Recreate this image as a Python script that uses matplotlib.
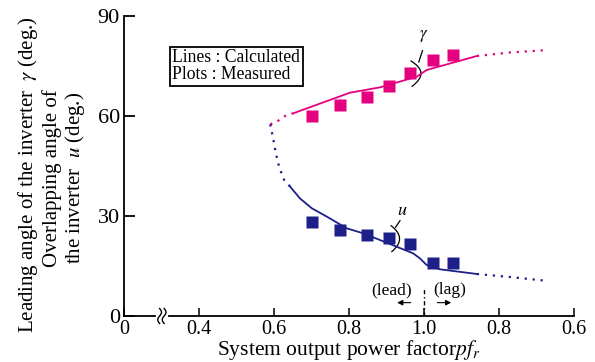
import numpy as np
import matplotlib
matplotlib.use("Agg")
import matplotlib.pyplot as plt
from matplotlib.path import Path
from matplotlib.patches import PathPatch
import matplotlib.transforms as mtransforms

plt.rcParams['font.family'] = ['Liberation Serif', 'DejaVu Serif']
plt.rcParams['mathtext.fontset'] = 'stix'

# x axis is unfolded: lead side 0.4..1.0, then lag side back down (1.2 -> 0.8, 1.4 -> 0.6)
tick_pos = [0.2, 0.4, 0.6, 0.8, 1.0, 1.2, 1.4]
tick_labels = ['0', '0.4', '0.6', '0.8', '1.0', '0.8', '0.6']

# measured
x_meas = [0.702, 0.777, 0.849, 0.906, 0.963, 1.025, 1.078]
gamma_meas = [59.9, 63.2, 65.6, 68.9, 72.8, 76.7, 78.3]
u_meas = [28.1, 25.8, 24.3, 23.3, 21.6, 15.9, 15.9]

# calculated gamma
g_dot_l_x = [0.590, 0.607, 0.625, 0.643, 0.651]
g_dot_l_y = [57.5, 58.2, 59.8, 60.5, 60.8]
g_x = [0.651, 0.803, 0.883, 0.981, 1.007, 1.141]
g_y = [60.8, 67.0, 68.6, 71.8, 73.8, 78.0]
g_dot_r_x = [1.141, 1.229, 1.331]
g_dot_r_y = [78.0, 79.05, 79.8]

# calculated u
u_dot_l_x = [0.590, 0.598, 0.605, 0.614, 0.627, 0.643]
u_dot_l_y = [57.5, 53.1, 48.8, 44.6, 40.8, 38.8]
u_x = [0.643, 0.669, 0.701, 0.741, 0.794, 0.838, 0.971, 0.989, 1.007, 1.043, 1.141]
u_y = [38.8, 35.3, 32.3, 29.8, 26.3, 24.8, 18.8, 17.3, 15.3, 14.0, 12.6]
u_dot_r_x = [1.141, 1.229, 1.331]
u_dot_r_y = [12.6, 11.7, 10.5]

pink = '#E4007F'
navy = '#1D2088'
dots = (0, (1, 2.6))

fig = plt.figure(figsize=(5.95, 3.62), dpi=100)
ax = fig.add_axes([0.2084, 0.1271, 0.7563, 0.8287])

ax.plot(g_x, g_y, color=pink, lw=1.3)
ax.plot(g_dot_l_x, g_dot_l_y, color=pink, lw=1.6, ls=dots)
ax.plot(g_dot_r_x, g_dot_r_y, color=pink, lw=1.6, ls=dots)
ax.plot(u_x, u_y, color=navy, lw=1.3)
ax.plot(u_dot_l_x, u_dot_l_y, color=navy, lw=1.6, ls=dots)
ax.plot(u_dot_r_x, u_dot_r_y, color=navy, lw=1.6, ls=dots)

ax.plot(x_meas, gamma_meas, 's', color=pink, ms=8, mec='none')
ax.plot(x_meas, u_meas, 's', color=navy, ms=8, mec='none')

ax.set_xlim(0.2, 1.4)
ax.set_ylim(0, 90)
ax.set_xticks(tick_pos)
ax.set_xticklabels(tick_labels)
ax.set_yticks([0, 30, 60, 90])
ax.tick_params(axis='x', direction='in', length=6, width=1.1, labelsize=14.5, pad=3)
ax.tick_params(axis='y', direction='in', length=8, width=1.3, labelsize=16, pad=3)
for s in ['top', 'right']:
    ax.spines[s].set_visible(False)
for s in ['left', 'bottom']:
    ax.spines[s].set_linewidth(1.3)

ax.set_xlabel('System output power factor$pf_r$', fontsize=15.5, labelpad=-1)

# y labels (three columns)
fig.text(28 / 595, 1 - 175 / 362, r'Leading angle of the inverter  $\gamma$ (deg.)',
         rotation=90, ha='center', va='center', fontsize=15)
fig.text(52 / 595, 1 - 178 / 362, 'Overlapping angle of',
         rotation=90, ha='center', va='center', fontsize=15)
fig.text(75 / 595, 1 - 178 / 362, r'the inverter  $u$ (deg.)',
         rotation=90, ha='center', va='center', fontsize=15)

# legend box
ax.text(0.329, 74.9, 'Lines : Calculated\nPlots : Measured', fontsize=12.7,
        ha='left', va='center', linespacing=1.0,
        bbox=dict(boxstyle='square,pad=0.15', fc='white', ec='black', lw=1.3))

# brackets for gamma and u
def bracket(x0, y0, xm, ym, x1, y1):
    p = Path([(x0, y0), (2 * xm - (x0 + x1) / 2, ym), (x1, y1)],
             [Path.MOVETO, Path.CURVE3, Path.CURVE3])
    ax.add_patch(PathPatch(p, fc='none', ec='black', lw=0.9))

bracket(0.964, 76.6, 0.992, 73.0, 0.967, 68.8)
ax.plot([0.986, 0.996], [76.2, 79.6], color='black', lw=0.9)
ax.text(0.998, 81.5, r'$\gamma$', fontsize=12, ha='center', va='bottom')

bracket(0.911, 27.2, 0.935, 23.3, 0.913, 19.2)
ax.plot([0.924, 0.936], [26.6, 28.6], color='black', lw=0.9)
ax.text(0.942, 29.0, r'$u$', fontsize=13, ha='center', va='bottom')

# lead / lag
ax.plot([1.0, 1.0], [0, 8.5], color='black', lw=1.0, ls=(0, (3, 2, 1, 2)))
ax.text(0.914, 7.8, '(lead)', fontsize=12.5, ha='center', va='center')
ax.text(1.069, 7.8, '(lag)', fontsize=12.5, ha='center', va='center')
ax.annotate('', xy=(0.921, 4.0), xytext=(0.972, 4.0),
            arrowprops=dict(arrowstyle='-|>', lw=0.8, color='black', mutation_scale=8))
ax.annotate('', xy=(1.080, 4.0), xytext=(1.028, 4.0),
            arrowprops=dict(arrowstyle='-|>', lw=0.8, color='black', mutation_scale=8))

# axis break mark
trans = mtransforms.blended_transform_factory(ax.transData, ax.transAxes)
ax.plot([0.291, 0.311], [0, 0], color='white', lw=3, transform=trans, clip_on=False, zorder=5)
t = np.linspace(-1, 1, 30)
for xc in [0.295, 0.307]:
    ax.plot(xc + 0.005 * np.sin(np.pi * t), 0.025 * t, color='black', lw=1.0,
            transform=trans, clip_on=False, zorder=6)

fig.savefig('out.png', dpi=100)
